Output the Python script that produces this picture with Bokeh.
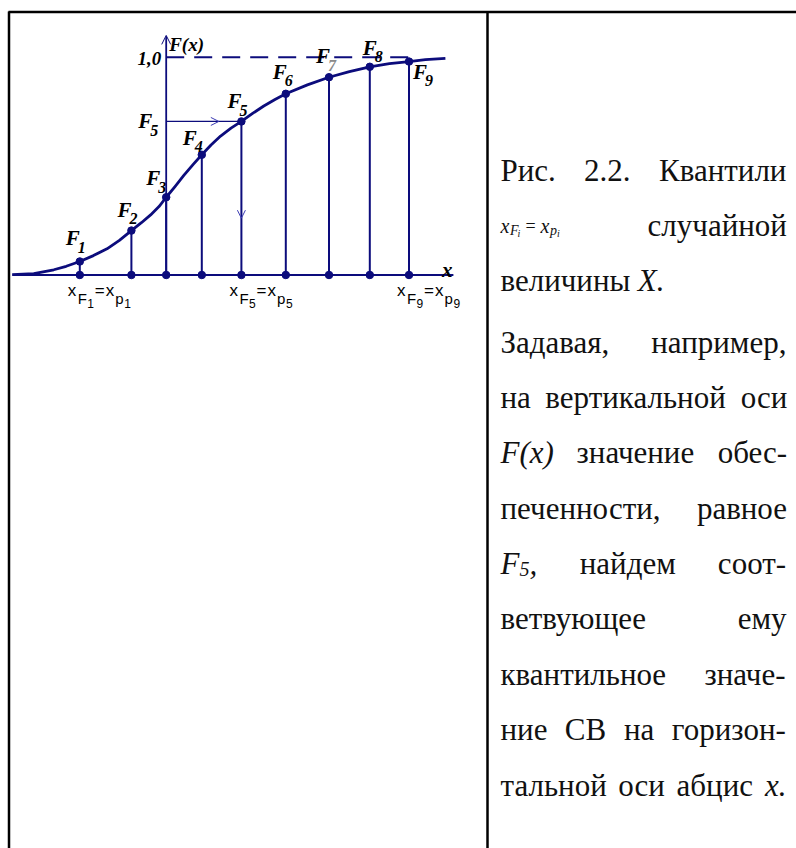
from bokeh.plotting import figure
from bokeh.models import Range1d, Arrow, OpenHead
from bokeh.core.properties import value
from bokeh.embed import file_html
from bokeh.resources import INLINE

# Quantiles x_{F_i} = x_{p_i} and the distribution function values F_i
quantile_x = [-2.16, -0.87, 0.0, 0.89, 1.88, 2.99, 4.07, 5.09, 6.07]
quantile_F = [0.062, 0.204, 0.357, 0.552, 0.705, 0.832, 0.908, 0.956, 0.980]
quantile_idx = ["1", "2", "3", "4", "5", "6", "7", "8", "9"]

# Sampled distribution function F(x)
curve_x = [-3.85, -3.31, -2.81, -2.50, -2.16, -1.82, -1.48, -1.17, -0.87, -0.62, -0.39,
           -0.18, 0.0, 0.22, 0.44, 0.67, 0.89, 1.12, 1.36, 1.62, 1.88, 2.16, 2.44, 2.72,
           2.99, 3.53, 4.07, 4.58, 5.09, 5.58, 6.07, 6.48, 6.98]
curve_F = [0.002, 0.006, 0.024, 0.040, 0.062, 0.089, 0.120, 0.159, 0.204, 0.240, 0.276,
           0.314, 0.357, 0.406, 0.457, 0.507, 0.552, 0.597, 0.638, 0.674, 0.705, 0.742,
           0.776, 0.806, 0.832, 0.873, 0.908, 0.934, 0.956, 0.970, 0.980, 0.989, 0.995]

# Quantiles that get a label under the abscissa (F1, F5, F9)
tick_idx = [0, 4, 8]
# Quantile used to show how a value F on the ordinate maps to x
demo = 4

axis_x = [-3.84, 7.18]   # extent of the abscissa line
F_top = 1.10             # tip of the ordinate arrow

NAVY = "#0c0c7c"
HEAD = "#3c3cb4"
W, H = 796, 848
SERIF = value("Liberation Serif")
SANS = value("Liberation Sans")

p = figure(width=W, height=H,
           x_range=Range1d(-4.1425, 15.7575), y_range=Range1d(-2.6331, 1.2603),
           output_backend="svg", toolbar_location=None,
           x_axis_location=None, y_axis_location=None,
           min_border=0, outline_line_color=None, background_fill_color="white")
p.grid.visible = False
# page coordinates (pixels from the top-left) for the table frame and caption
p.extra_x_ranges = {"px": Range1d(0, W)}
p.extra_y_ranges = {"py": Range1d(H, 0)}
PG = dict(x_range_name="px", y_range_name="py")

# ---- table frame ----
p.segment(x0=[8, 8.5, 487], y0=[11.5, 11, 11], x1=[W, 8.5, 487], y1=[11.5, H, H],
          line_color="black", line_width=2.5, **PG)

# ---- chart ----
p.line(axis_x, [0, 0], line_color=NAVY, line_width=2)
p.add_layout(Arrow(end=OpenHead(size=9, line_color=NAVY, line_width=1),
                   x_start=0, y_start=0, x_end=0, y_end=F_top,
                   line_color=NAVY, line_width=1.8))
p.line([0, quantile_x[-1]], [1.0, 1.0], line_color=NAVY, line_width=2, line_dash="18 10")
p.segment(x0=quantile_x, y0=[0] * len(quantile_x), x1=quantile_x, y1=quantile_F,
          line_color=NAVY, line_width=2)
p.line(curve_x, curve_F, line_color=NAVY, line_width=2.8, line_join="round")

xd, Fd = quantile_x[demo], quantile_F[demo]
p.segment(x0=[0], y0=[Fd], x1=[xd], y1=[Fd], line_color=NAVY, line_width=1.3)
p.add_layout(Arrow(end=OpenHead(size=8, line_color=HEAD, line_width=1),
                   x_start=0, y_start=Fd, x_end=0.7 * xd, y_end=Fd, line_alpha=0))
p.add_layout(Arrow(end=OpenHead(size=8, line_color=HEAD, line_width=1),
                   x_start=xd, y_start=Fd, x_end=xd, y_end=0.37 * Fd, line_alpha=0))

p.scatter(quantile_x, quantile_F, size=7.5, color=NAVY)
p.scatter(quantile_x, [0] * len(quantile_x), size=7.5, color=NAVY)

# point labels F_i (offsets in pixels from each point)
lab_dx = [-14, -14, -20, -19, -14, -13, -13, -7, 4]
lab_dy = [-23, -21, -19, -17, -20, -22, -21, -19, 10]
lab_style = dict(text_font=SERIF, text_font_style="bold italic", text_color="black",
                 text_align="left", text_baseline="alphabetic")
p.text(x=quantile_x, y=quantile_F, text=["F"] * 9, x_offset=lab_dx, y_offset=lab_dy,
       text_font_size="21px", **lab_style)
sub_col = ["black"] * 9
sub_col[6] = "#8a8a8a"
p.text(x=quantile_x, y=quantile_F, text=quantile_idx,
       x_offset=[d + 12 for d in lab_dx], y_offset=[d + 9 for d in lab_dy],
       text_font_size="16px", text_font=SERIF, text_font_style="bold italic",
       text_color=sub_col, text_align="left", text_baseline="alphabetic")

# ordinate labels
p.text(x=[0], y=[Fd], text=["F"], x_offset=-28, y_offset=0, text_font_size="21px", **lab_style)
p.text(x=[0], y=[Fd], text=[quantile_idx[demo]], x_offset=-16, y_offset=9,
       text_font_size="16px", **lab_style)
p.text(x=[0], y=[1.0], text=["1,0"], x_offset=-5, y_offset=1, text_font_size="19px",
       text_font=SERIF, text_font_style="bold italic", text_color="black",
       text_align="right", text_baseline="alphabetic")
p.text(x=[0], y=[1.0], text=["F(x)"], x_offset=3, y_offset=-13, text_font_size="19px",
       **lab_style)
p.text(x=[axis_x[1]], y=[0], text=["x"], x_offset=-1, y_offset=-5, text_font_size="21px",
       text_font=SERIF, text_font_style="bold italic", text_color="black",
       text_align="right", text_baseline="alphabetic")

# abscissa labels x_{F_i}=x_{p_i}: (text, dx, baseline below axis, size)
pieces = [("x", 0, 15.5, 17), ("F", 10, 23.5, 15), (None, 19.5, 28.5, 12),
          ("=", 27, 15.5, 17), ("x", 38, 15.5, 17), ("p", 47.5, 23.5, 15), (None, 56.5, 28.5, 12)]
groups = {}
for i in tick_idx:
    for txt, dx, dy, size in pieces:
        g = groups.setdefault(size, {"x": [], "y": [], "t": [], "dx": [], "dy": []})
        g["x"].append(quantile_x[i])
        g["y"].append(0)
        g["t"].append(txt if txt else quantile_idx[i])
        g["dx"].append(dx - 12)
        g["dy"].append(dy)
for size, g in groups.items():
    p.text(x=g["x"], y=g["y"], text=g["t"], x_offset=g["dx"], y_offset=g["dy"],
           text_font=SANS, text_font_size=f"{size}px", text_color="black",
           text_align="left", text_baseline="alphabetic")

# ---- caption cell (justified text) ----
REG = {' ': 250, '.': 250, ',': 250, '-': 333, '(': 333, ')': 333, '2': 500, '5': 500,
       '=': 564, 'Р': 556, 'К': 667, 'З': 500, 'С': 667, 'В': 667,
       'а': 444, 'б': 500, 'в': 472, 'г': 410, 'д': 500, 'е': 444, 'з': 395, 'и': 531,
       'й': 531, 'к': 486, 'л': 500, 'м': 632, 'н': 531, 'о': 500, 'п': 531, 'р': 500,
       'с': 444, 'т': 437, 'у': 500, 'ц': 531, 'ч': 500, 'щ': 770, 'ы': 667, 'ь': 455,
       'ю': 750, 'я': 460}
ITA = {'F': 611, 'x': 444, 'X': 611, 'p': 500, 'i': 278, '(': 333, ')': 333, '.': 250,
       '5': 500, ',': 250}
FS = 31
LEFT, RIGHT = 500, 786


def R(t, style="normal", size=FS, dy=0, adv=None):
    return (t, style, size, dy, adv)


def run_w(run):
    t, style, size, _, adv = run
    if adv is not None:
        return adv
    tab = ITA if style == "italic" else REG
    return sum(tab.get(c, REG.get(c, 500)) for c in t) * size / 1000


# inline formula x_{F_i} = x_{p_i}, with explicit advances for its pieces
formula = [R("x", "italic", 20, 0, 9.5), R("F", "italic", 14, 5, 7.5), R("i", "italic", 10, 8, 8),
           R("=", "normal", 18, 0, 15), R("x", "italic", 20, 0, 9.5),
           R("p", "italic", 14, 5, 7), R("i", "italic", 10, 8, 4)]

lines = [
    (171, True, [[R("Рис.")], [R("2.2.")], [R("Квантили")]]),
    (226, True, [formula, [R("случайной")]]),
    (281, False, [[R("величины")], [R("X.", "italic")]]),
    (343, True, [[R("Задавая,")], [R("например,")]]),
    (398, True, [[R("на")], [R("вертикальной")], [R("оси")]]),
    (453, True, [[R("F(x)", "italic")], [R("значение")], [R("обес-")]]),
    (509, True, [[R("печенности,")], [R("равное")]]),
    (564, True, [[R("F", "italic"), R("5", "italic", 20, 5), R(",", "italic")],
                 [R("найдем")], [R("соот-")]]),
    (619, True, [[R("ветвующее")], [R("ему")]]),
    (675, True, [[R("квантильное")], [R("значе-")]]),
    (730, True, [[R("ние")], [R("СВ")], [R("на")], [R("горизон-")]]),
    (786, True, [[R("тальной")], [R("оси")], [R("абцис")], [R("x.", "italic")]]),
]

runs = {}
for yc, justify, words in lines:
    widths = [sum(run_w(r) for r in w) for w in words]
    if justify and len(words) > 1:
        gap = (RIGHT - LEFT - sum(widths)) / (len(words) - 1)
    else:
        gap = 0.25 * FS
    x = LEFT
    for w, ww in zip(words, widths):
        xr = x
        for r in w:
            g = runs.setdefault((r[1], r[2]), {"x": [], "y": [], "t": []})
            g["x"].append(xr)
            g["y"].append(yc - 1 + r[3])
            g["t"].append(r[0])
            xr += run_w(r)
        x += ww + gap

for (style, size), g in runs.items():
    p.text(x=g["x"], y=g["y"], text=g["t"], text_font=SERIF, text_font_style=style,
           text_font_size=f"{size}px", text_color="#111111",
           text_align="left", text_baseline="alphabetic", **PG)

open("out.html", "w").write(file_html(p, INLINE))
